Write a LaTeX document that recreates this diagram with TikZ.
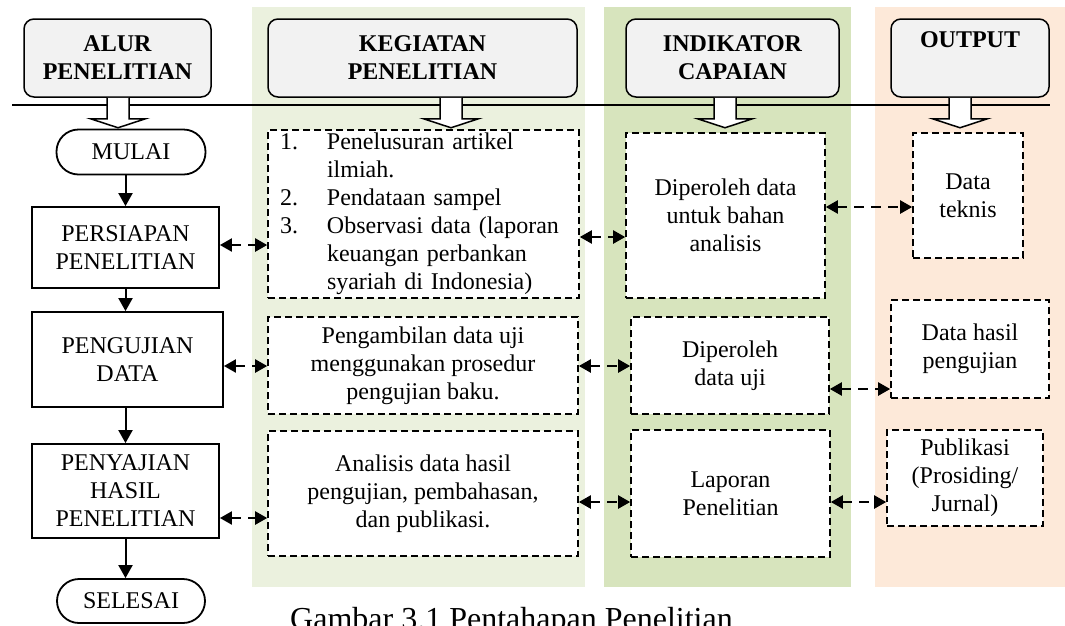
\documentclass[tikz,border=0pt]{standalone}
\usepackage{fontspec}
\setmainfont{Liberation Serif}
\usepackage{xcolor}
\usepackage{tikz}
\usetikzlibrary{arrows.meta}
\usetikzlibrary{positioning}

\definecolor{latarKeg}{HTML}{EBF1DE}
\definecolor{latarInd}{HTML}{D7E4BD}
\definecolor{latarOut}{HTML}{FDE9D9}
\definecolor{abuJudul}{HTML}{F2F2F2}

\newcommand{\butir}[1]{\makebox[47pt][l]{#1}}

\begin{document}
\begin{tikzpicture}[
  x=1pt, y=-1pt,
  every node/.style={font=\fontsize{24}{28}\selectfont, align=center, inner sep=0pt},
  judul/.style={draw, line width=1.5pt, rounded corners=10pt, fill=abuJudul,
    font=\fontsize{24}{28}\selectfont\bfseries, minimum height=78pt},
  alur/.style={draw, line width=1.8pt, fill=white},
  ujung/.style={alur, rounded corners=22pt},
  kotak/.style={draw, line width=1.6pt, dash pattern=on 7pt off 4pt, fill=white},
  panah/.style={line width=2pt, -{Triangle[length=13pt,width=14pt]}},
  dua/.style={line width=2.2pt, dash pattern=on 10pt off 7pt,
    {Triangle[length=12pt,width=13pt]}-{Triangle[length=12pt,width=13pt]}},
  blok/.style={draw, line width=1.5pt, fill=white}
]
\useasboundingbox (0,0) rectangle (1065,625);

% latar kolom
\fill[latarKeg] (252,7) rectangle (585,587);
\fill[latarInd] (604,7) rectangle (851,587);
\fill[latarOut] (875,7) rectangle (1065,587);
\draw[line width=1.5pt] (12,105) -- (1050,105);

% judul kolom
\node[judul, minimum width=187pt] (hAlur) at (117.5,58) {ALUR\\PENELITIAN};
\node[judul, minimum width=309pt] (hKeg) at (422.5,58) {KEGIATAN\\PENELITIAN};
\node[judul, minimum width=213pt] (hInd) at (732.5,58) {INDIKATOR\\CAPAIAN};
\node[judul, minimum width=158pt] (hOut) at (970,58) {OUTPUT\\\strut};

\foreach \h/\x in {hAlur/118, hKeg/451, hInd/725, hOut/960}
  \draw[blok] (\h.south -| \x-11,0) -- ++(0,21) -- ++(-16.5,0) -- ++(27.5,9)
    -- ++(27.5,-9) -- ++(-16.5,0) -- ++(0,-21);

% alur penelitian
\node[ujung, minimum width=149pt, minimum height=45pt] (mulai) at (131,152) {MULAI};
\node[alur, minimum width=187pt, minimum height=81pt] (persiapan) at (125.5,247.5) {PERSIAPAN\\PENELITIAN};
\node[alur, minimum width=191pt, minimum height=95pt] (pengujian) at (127.5,359.5) {PENGUJIAN\\DATA};
\node[alur, minimum width=187pt, minimum height=94pt] (penyajian) at (125.5,491) {PENYAJIAN\\HASIL\\PENELITIAN};
\node[ujung, minimum width=148pt, minimum height=44pt] (selesai) at (131,601) {SELESAI};

\draw[panah] (mulai.south -| persiapan) -- (persiapan);
\draw[panah] (persiapan.south) -- (persiapan.south |- pengujian.north);
\draw[panah] (pengujian.south -| penyajian) -- (penyajian);
\draw[panah] (penyajian.south) -- (penyajian.south |- selesai.north);

% kegiatan penelitian
\node[kotak, minimum width=311pt, minimum height=168pt, text width=287pt, align=left] (keg1) at (423.5,214)
  {\butir{1.}Penelusuran artikel\\
   \hspace*{47pt}ilmiah.\\
   \butir{2.}Pendataan sampel\\
   \butir{3.}Observasi data (laporan\\
   \hspace*{47pt}keuangan perbankan\\
   \hspace*{47pt}syariah di Indonesia)};
\node[kotak, minimum width=310pt, minimum height=97pt] (keg2) at (423,365.5)
  {Pengambilan data uji\\menggunakan prosedur\\pengujian baku.};
\node[kotak, minimum width=310pt, minimum height=125pt] (keg3) at (423,493.5)
  {Analisis data hasil\\pengujian, pembahasan,\\dan publikasi.};

% indikator capaian
\node[kotak, minimum width=199pt, minimum height=165pt] (ind1) at (725.5,215.5) {Diperoleh data\\untuk bahan\\analisis};
\node[kotak, minimum width=198pt, minimum height=97pt] (ind2) at (730,365.5) {Diperoleh\\data uji};
\node[kotak, minimum width=199pt, minimum height=127pt] (ind3) at (730.5,493.5) {Laporan\\Penelitian};

% output
\node[kotak, minimum width=110pt, minimum height=125pt] (out1) at (968,195.5) {Data\\teknis};
\node[kotak, minimum width=158pt, minimum height=98pt] (out2) at (970,349) {Data hasil\\pengujian};
\node[kotak, minimum width=156pt, minimum height=96pt] (out3) at (965,478) {Publikasi\\(Prosiding/\\Jurnal)};

\foreach \a/\b/\y in {persiapan/keg1/245, pengujian/keg2/366, penyajian/keg3/518,
    keg1/ind1/237, keg2/ind2/366, keg3/ind3/502,
    ind1/out1/207, ind2/out2/389, ind3/out3/502}
  \draw[dua] (\a.east |- 0,\y) -- (\b.west |- 0,\y);

\node[font=\fontsize{32}{38}\selectfont, anchor=base west] (keterangan) at (290,629)
  {Gambar 3.1 Pentahapan Penelitian};
\end{tikzpicture}
\end{document}
